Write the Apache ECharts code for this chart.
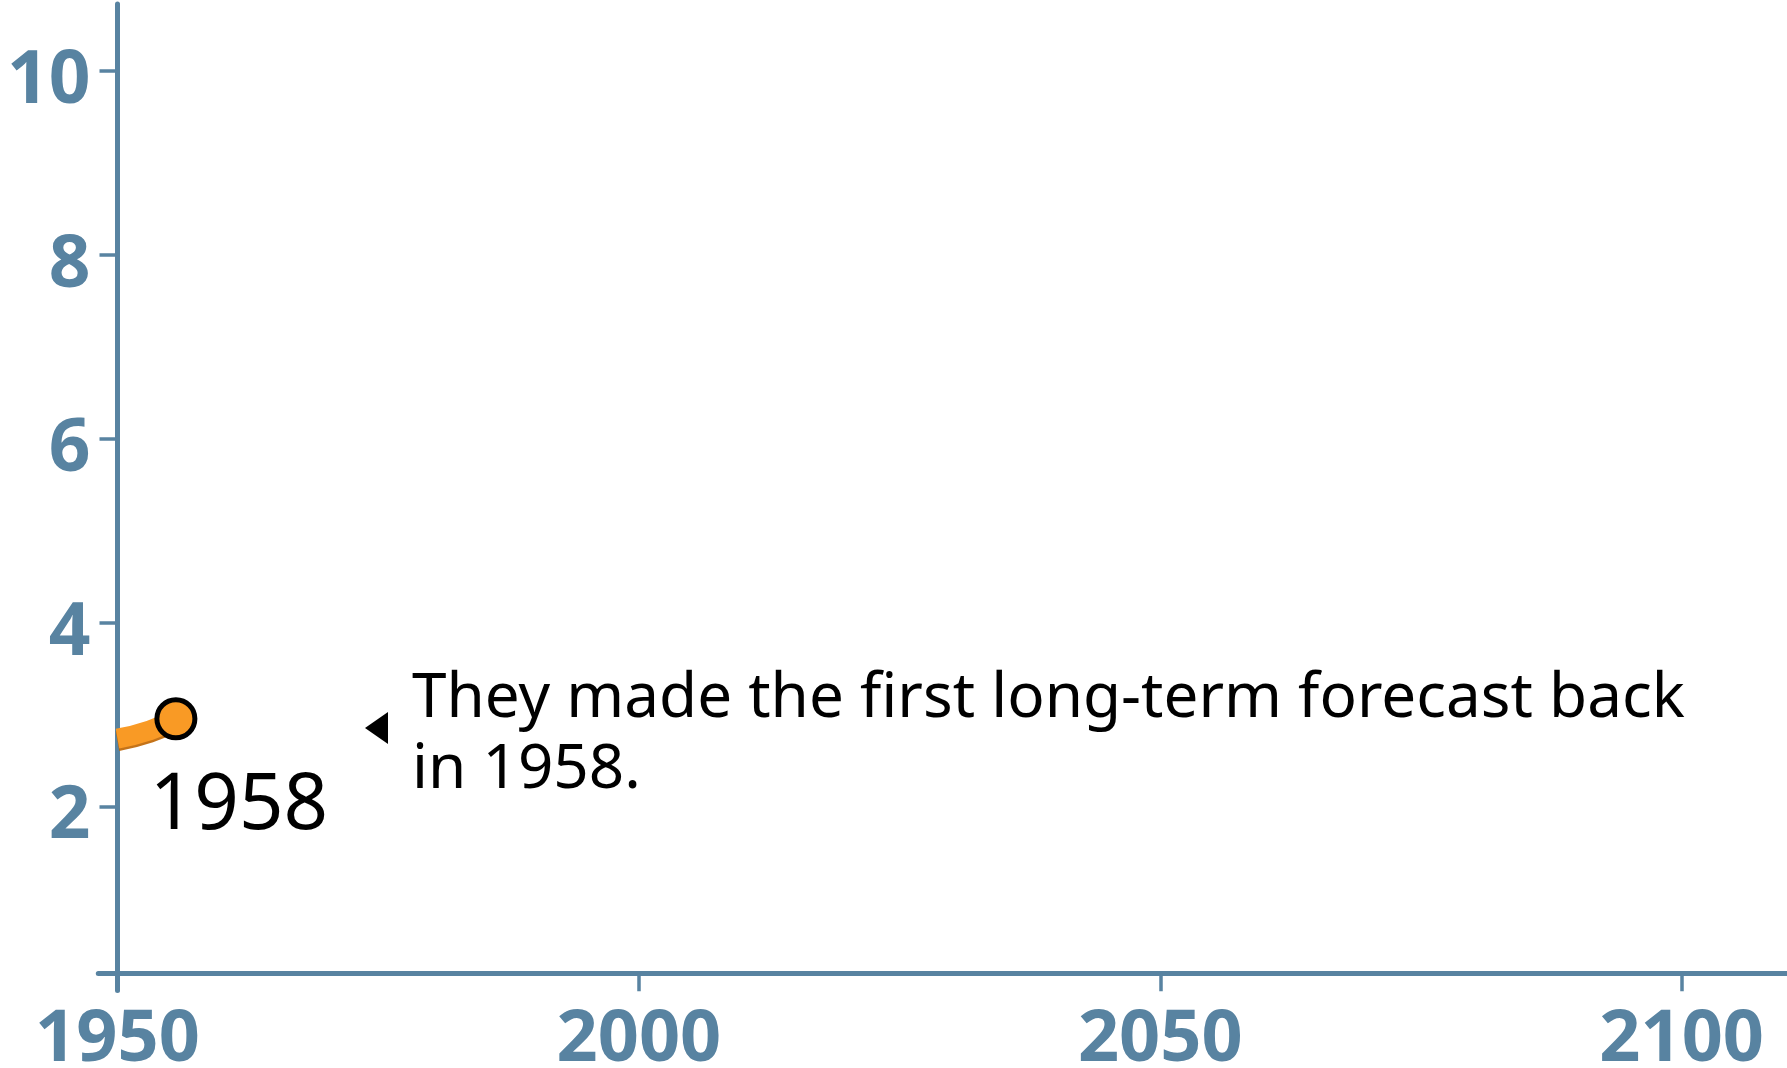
<!DOCTYPE html>
<html>
<head>
<meta charset="utf-8">
<script src="https://cdn.jsdelivr.net/npm/echarts@6/dist/echarts.min.js"></script>
<style>
  html, body { margin: 0; padding: 0; background: #fff; }
  #chart { width: 1787px; height: 1068px; }
</style>
</head>
<body>
<div id="chart"></div>
<script>
// data
var years = [1950, 1953.1, 1955.6];
var values = [2.74, 2.83, 2.956];
var xTicks = [1950, 2000, 2050, 2100];
var yTicks = [2, 4, 6, 8, 10];
var pointLabel = '1958';
var noteLines = ['They made the first long-term forecast back', 'in 1958.'];

var axisColor = '#5883a1';
var orange = '#f99a25';

var chart = echarts.init(document.getElementById('chart'));

var lineData = years.map(function (y, i) {
  var last = i === years.length - 1;
  return {
    value: [y, values[i]],
    symbol: last ? 'circle' : 'none',
    label: last ? {
      show: true,
      formatter: pointLabel,
      position: 'bottom',
      distance: 28,
      offset: [63, 0],
      color: '#000',
      fontFamily: 'Noto Sans',
      fontSize: 78
    } : { show: false }
  };
});

chart.setOption({
  animation: false,
  // keep the grid fixed, labels may sit at the edge
  grid: { left: 98.3, top: 4, right: 0, bottom: 77.4, containLabel: false, outerBoundsMode: 'none' },
  xAxis: {
    type: 'value',
    min: 1948.16,
    max: 2110.1,
    splitLine: { show: false },
    offset: -17.3,
    axisLine: { show: true, lineStyle: { color: axisColor, width: 5 } },
    axisTick: { show: true, customValues: xTicks, length: 18, lineStyle: { color: axisColor, width: 3.5 } },
    axisLabel: {
      customValues: xTicks,
      formatter: function (v) { return String(v); },
      margin: 31,
      color: axisColor,
      fontFamily: 'Noto Sans',
      fontWeight: 'bold',
      fontSize: 72
    }
  },
  yAxis: {
    type: 'value',
    min: 0,
    max: 10.729,
    interval: 2,
    offset: -19.2,
    splitLine: { show: false },
    axisLine: { show: true, lineStyle: { color: axisColor, width: 5 } },
    axisTick: { show: true, customValues: yTicks, length: 18, lineStyle: { color: axisColor, width: 3.5 } },
    axisLabel: {
      customValues: yTicks,
      margin: 27,
      // empty first line pushes the number a bit below its tick
      formatter: function (v) { return '\n' + v; },
      lineHeight: 22,
      color: axisColor,
      fontFamily: 'Noto Sans',
      fontWeight: 'bold',
      fontSize: 73
    }
  },
  series: [{
    type: 'line',
    smooth: true,
    data: lineData,
    symbolSize: 38,
    lineStyle: {
      color: orange,
      width: 20,
      cap: 'butt',
      shadowColor: 'rgba(190,100,0,0.9)',
      shadowOffsetY: 2.5,
      shadowBlur: 0
    },
    itemStyle: { color: orange, borderColor: '#000', borderWidth: 5 },
    z: 3
  }],
  // annotation: pointer + note text
  graphic: [
    {
      type: 'polygon',
      shape: { points: [[365, 728], [388, 712], [388, 744]] },
      style: { fill: '#000' }
    },
    {
      type: 'text',
      left: 412,
      top: 664,
      style: {
        text: noteLines.join('\n'),
        fill: '#000',
        font: '62px "Noto Sans"',
        lineHeight: 70.7
      }
    }
  ]
});
</script>
</body>
</html>
